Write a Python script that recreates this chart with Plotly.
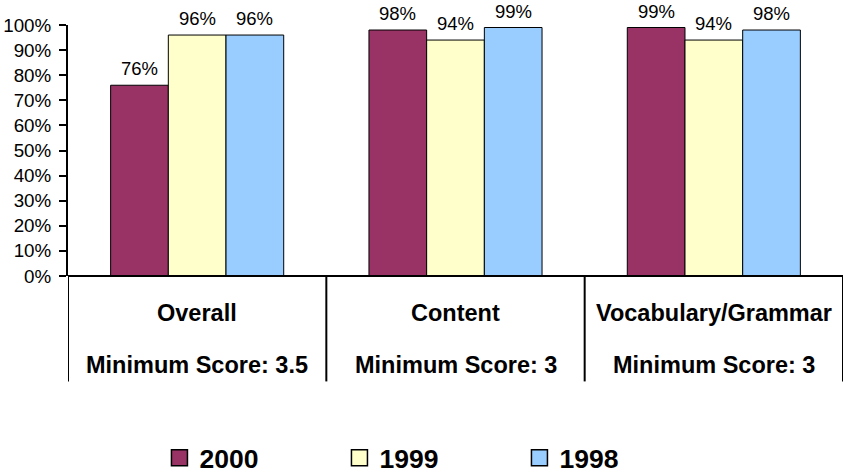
import plotly.graph_objects as go

categories = ["Overall", "Content", "Vocabulary/Grammar"]
min_scores = ["Minimum Score: 3.5", "Minimum Score: 3", "Minimum Score: 3"]
series_names = ["2000", "1999", "1998"]
values_2000 = [76, 98, 99]
values_1999 = [96, 94, 94]
values_1998 = [96, 99, 98]
colors = ["#993366", "#FFFFCC", "#99CCFF"]
y_ticks = list(range(0, 101, 10))
y_ticklabels = [f"{v}%" for v in y_ticks]

FONT = "Liberation Sans, Arial, sans-serif"
BARGAP = 0.33

fig = go.Figure()
all_series = [values_2000, values_1999, values_1998]
n = len(all_series)
bar_w = (1 - BARGAP) / n
for j, (name, vals, col) in enumerate(zip(series_names, all_series, colors)):
    fig.add_trace(go.Bar(
        x=list(range(len(categories))), y=vals, name=name, showlegend=False,
        marker=dict(color=col, line=dict(color="black", width=1)),
    ))
    # value labels above each bar
    for i, v in enumerate(vals):
        fig.add_annotation(x=i + (j - (n - 1) / 2) * bar_w, y=v, xref="x", yref="y",
                           text=f"{v}%", showarrow=False, yanchor="bottom", yshift=5,
                           borderpad=0,
                           font=dict(family=FONT, size=18.5, color="black"))
# legend entries (square swatches)
for name, col in zip(series_names, colors):
    fig.add_trace(go.Scatter(
        x=[None], y=[None], name=name, mode="markers",
        marker=dict(symbol="square", size=17, color=col, line=dict(color="black", width=1.5)),
    ))

fig.update_layout(
    width=845, height=475,
    margin=dict(l=68, r=2, t=25, b=199, autoexpand=False),
    paper_bgcolor="white", plot_bgcolor="white",
    barmode="group", bargap=BARGAP, bargroupgap=0,
    font=dict(family=FONT, color="black"),
    showlegend=True,
    legend=dict(orientation="h", x=0.118, xanchor="left", y=-0.63, yanchor="top",
                font=dict(family=FONT, size=26.5, color="black", weight="bold"),
                entrywidth=135, entrywidthmode="pixels", itemwidth=30,
                itemsizing="trace", traceorder="normal"),
)
fig.update_xaxes(range=[-0.5, 2.5], showticklabels=False, showgrid=False,
                 zeroline=False, showline=False, ticks="", automargin=False)
fig.update_yaxes(range=[0, 100], tickvals=y_ticks, ticktext=y_ticklabels,
                 tickfont=dict(family=FONT, size=18.8, color="black"),
                 ticks="outside", ticklen=7, tickwidth=2, tickcolor="black",
                 ticklabelstandoff=4,
                 showline=True, linecolor="black", linewidth=2,
                 showgrid=False, zeroline=False, automargin=False)

# baseline + category separators
fig.add_shape(type="line", xref="x", yref="paper", x0=-0.5, x1=2.5, y0=0, y1=0,
              line=dict(color="black", width=2))
for xv in [-0.5, 0.5, 1.5, 2.5]:
    fig.add_shape(type="line", xref="x", yref="paper", x0=xv, x1=xv, y0=0, y1=-0.42,
                  line=dict(color="black", width=2))

for i, (c, m) in enumerate(zip(categories, min_scores)):
    fig.add_annotation(x=i, y=-0.147, xref="x", yref="paper", text=c, showarrow=False,
                       yanchor="middle",
                       font=dict(family=FONT, size=23.5, color="black", weight="bold"))
    fig.add_annotation(x=i, y=-0.355, xref="x", yref="paper", text=m, showarrow=False,
                       yanchor="middle",
                       font=dict(family=FONT, size=23.5, color="black", weight="bold"))

fig.write_html("out.html", config={"displayModeBar": False},
               post_script="document.body.style.margin='0';")
